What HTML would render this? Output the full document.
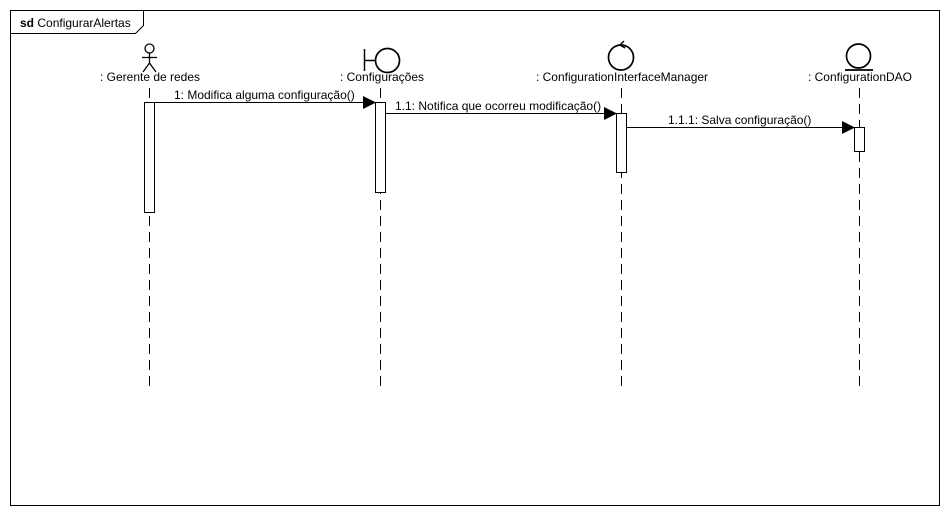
<!DOCTYPE html>
<html><head><meta charset="utf-8"><style>
html,body{margin:0;padding:0;background:#fff;}
svg{display:block;}
text{font-family:"Liberation Sans",sans-serif;font-size:12px;fill:#000;}
</style></head><body>
<svg width="948" height="515" viewBox="0 0 948 515" xmlns="http://www.w3.org/2000/svg">
<rect x="10.5" y="10.5" width="929" height="495" fill="#fff" stroke="#000"/>
<path d="M10.5 33.5 H135.5 L143.5 25.5 V10.5" fill="none" stroke="#000"/>
<text x="20" y="27"><tspan font-weight="bold">sd</tspan> ConfigurarAlertas</text>

<g stroke="#000" fill="none" stroke-width="1">
<!-- actor -->
<circle cx="149.5" cy="48.5" r="4.5" stroke-width="1.3"/>
<line x1="149.5" y1="53" x2="149.5" y2="63" stroke-width="1.3"/>
<line x1="142" y1="57.5" x2="157" y2="57.5" stroke-width="1.3"/>
<line x1="149.5" y1="63" x2="143" y2="72" stroke-width="1.3"/>
<line x1="149.5" y1="63" x2="156" y2="72" stroke-width="1.3"/>
<!-- boundary -->
<line x1="364.5" y1="49" x2="364.5" y2="71" stroke-width="1.5"/>
<line x1="364.5" y1="60.5" x2="375" y2="60.5" stroke-width="1.5"/>
<circle cx="387.5" cy="60.5" r="12" stroke-width="1.7"/>
<!-- control -->
<circle cx="621" cy="57.5" r="12.5" stroke-width="1.7"/>
<path d="M620 45 L624 41 M620 45 L625 48" stroke-width="1.4"/>
<!-- entity -->
<circle cx="858.5" cy="56" r="12" stroke-width="1.7"/>
<line x1="845" y1="70" x2="873" y2="70" stroke-width="1.7"/>
<!-- lifelines -->
<g stroke-dasharray="10,6">
<line x1="149.5" y1="88" x2="149.5" y2="386"/>
<line x1="380.5" y1="88" x2="380.5" y2="386"/>
<line x1="621.5" y1="88" x2="621.5" y2="386"/>
<line x1="859.5" y1="88" x2="859.5" y2="386"/>
</g>
</g>
<text x="150" y="81" text-anchor="middle">: Gerente de redes</text>
<text x="382" y="81" text-anchor="middle">: Configurações</text>
<text x="622" y="81" text-anchor="middle">: ConfigurationInterfaceManager</text>
<text x="860" y="81" text-anchor="middle">: ConfigurationDAO</text>

<g stroke="#000" fill="#fff">
<rect x="144.5" y="102.5" width="10" height="110"/>
<rect x="375.5" y="102.5" width="10" height="90"/>
<rect x="616.5" y="113.5" width="10" height="59"/>
<rect x="854.5" y="127.5" width="10" height="24"/>
</g>
<g stroke="#000">
<line x1="154.5" y1="102.5" x2="364" y2="102.5"/>
<line x1="385.5" y1="113.5" x2="605" y2="113.5"/>
<line x1="626.5" y1="127.5" x2="843" y2="127.5"/>
</g>
<g fill="#000">
<polygon points="363,96 376,102.5 363,109"/>
<polygon points="604,107 617,113.5 604,120"/>
<polygon points="842,121 855,127.5 842,134"/>
</g>
<text x="174" y="99">1: Modifica alguma configuração()</text>
<text x="395" y="110">1.1: Notifica que ocorreu modificação()</text>
<text x="668" y="124">1.1.1: Salva configuração()</text>
</svg>
</body></html>
